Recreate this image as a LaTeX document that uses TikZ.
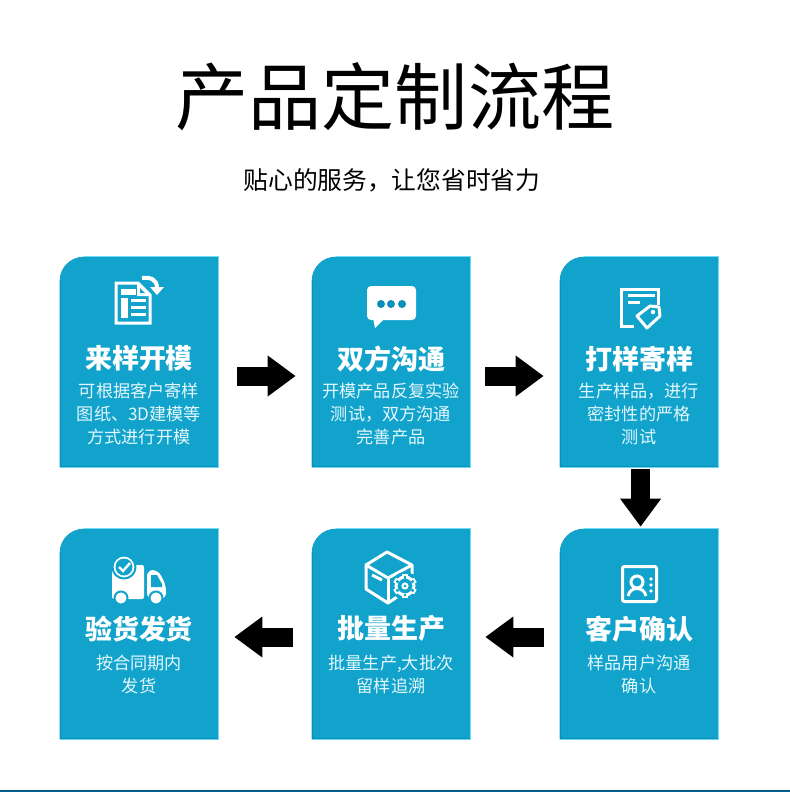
\documentclass[tikz,border=0pt]{standalone}
\usepackage{fontspec}
\setmainfont{Noto Sans CJK SC}
\usetikzlibrary{arrows.meta,calc}
\definecolor{cardBlue}{HTML}{11A3CC}
\definecolor{cardDark}{HTML}{0B8FB9}
\definecolor{cardLight}{HTML}{6FDBF3}
\definecolor{barBlue}{HTML}{005F86}
\definecolor{bodyText}{HTML}{E4F8FD}
\tikzset{
    card/.style={minimum width=3.95cm, minimum height=5.25cm, inner sep=0pt},
    cardhead/.style={font=\fontsize{19.2}{22}\selectfont\bfseries, text=white, inner sep=0pt},
    cardbody/.style={font=\fontsize{12.2}{16.2}\selectfont, text=bodyText, align=center, inner sep=0pt, anchor=north},
    flowarrow/.style={line width=0.475cm, -{Triangle[length=0.7cm,width=0.975cm]}},
    iconline/.style={draw=white, line width=0.075cm},
}

\begin{document}
\begin{tikzpicture}[x=0.025cm, y=-0.025cm, >=Latex]
    \useasboundingbox (0,0) rectangle (790,792);
    \fill[white] (0,0) rectangle (790,792);
    \fill[barBlue] (0,790) rectangle (790,792);

    \node[font=\fontsize{52}{60}\selectfont, inner sep=0pt] (title) at (395,97) {产品定制流程};
    \node[font=\fontsize{17.6}{21}\selectfont, inner sep=0pt] (subtitle) at (392,180) {贴心的服务，让您省时省力};

    % ---------- cards ----------
    \foreach \n/\x/\y/\hy/\head/\body in {
        1/139/362/102/来样开模/{可根据客户寄样\\图纸、3D建模等\\方式进行开模},
        2/391/362/102/双方沟通/{开模产品反复实验\\测试，双方沟通\\完善产品},
        3/639/362/102/打样寄样/{生产样品，进行\\密封性的严格\\测试},
        4/139/634/100/验货发货/{按合同期内\\发货},
        5/391/634/100/批量生产/{批量生产,大批次\\留样追溯},
        6/639/634/100/客户确认/{样品用户沟通\\确认}} {
        \node[card] (card\n) at (\x,\y) {};
        \fill[cardBlue]
            (card\n.south west) -- ([yshift=-0.6cm]card\n.north west) arc (180:270:24)
            -- (card\n.north east) -- (card\n.south east) -- cycle;
        \draw[cardDark, line width=0.025cm] ([yshift=-0.6cm,xshift=0.012cm]card\n.north west)
            -- ([yshift=0.012cm,xshift=0.012cm]card\n.south west) -- ([yshift=0.012cm]card\n.south east);
        \draw[cardLight, line width=0.015cm] ([xshift=0.6cm]card\n.north west)
            -- (card\n.north east) -- (card\n.south east) -- (card\n.south west);
        \node[cardhead] (head\n) at ($(card\n.north)+(0,\hy)$) {\head};
        \node[cardbody] (body\n) at ($(card\n.north)+(0,126)$) {\body};
    }

    % ---------- arrows ----------
    \draw[flowarrow, shorten <=0.475cm, shorten >=0.4cm] ([yshift=-0.35cm]card1.east) -- ([yshift=-0.35cm]card2.west);
    \draw[flowarrow, shorten <=0.375cm, shorten >=0.4cm] ([yshift=-0.35cm]card2.east) -- ([yshift=-0.35cm]card3.west);
    \draw[flowarrow, shorten <=0.03cm, shorten >=0.05cm] ([xshift=0.04cm]card3.south) -- ([xshift=0.04cm]card6.north);
    \draw[flowarrow, shorten <=0.4cm, shorten >=0.375cm] ([yshift=-0.075cm]card6.west) -- ([yshift=-0.075cm]card5.east);
    \draw[flowarrow, shorten <=0.475cm, shorten >=0.4cm] ([yshift=-0.075cm]card5.west) -- ([yshift=-0.075cm]card4.east);

    % ---------- icon 1: document ----------
    \draw[iconline] (116,283) -- (138,283) -- (150,295) -- (150,323) -- (116,323) -- cycle;
    \fill[white] (137,283) -- (137,296) -- (150,296) -- cycle;
    \fill[cardBlue] (140,288) -- (140,293) -- (145,293) -- cycle;
    \fill[white] (121,289) rectangle (136,295);
    \fill[white] (121,298) rectangle (128,318);
    \foreach \y in {299,306,313} {
        \fill[white] (131,\y) rectangle (146,\y+3);
    }
    \draw[iconline, line width=0.1cm] (142,278) .. controls (150,277) and (157,279) .. (157,288);
    \fill[white] (150,287) -- (164,287) -- (157,295) -- cycle;

    % ---------- icon 2: speech bubble ----------
    \fill[white, rounded corners=0.1cm] (367,286) rectangle (416,320);
    \fill[white] (373,318) -- (375,328) -- (384,319) -- cycle;
    \foreach \x in {381,391,402} {
        \fill[cardDark] (\x,304) circle (4);
    }

    % ---------- icon 3: form and tag ----------
    \draw[iconline] (634,326) -- (621.5,326) -- (621.5,289.5) -- (658.5,289.5) -- (658.5,305);
    \draw[iconline] (628,295) -- (655,295);
    \draw[iconline] (628,302) -- (640,302);
    \draw[iconline, fill=cardBlue, line join=round] (637,316) -- (650,306) -- (659,307) -- (660,316) -- (647,328) -- cycle;
    \fill[white] (653,312) circle (2.2);

    % ---------- icon 4: truck ----------
    \fill[white, rounded corners=0.05cm] (112,565) rectangle (144,599);
    \fill[white, rounded corners=0.15cm] (147,570) -- (158,570) -- (166,585) -- (166,599) -- (147,599) -- cycle;
    \fill[cardBlue] (151,575) -- (157,575) -- (162,584) -- (162,587) -- (151,587) -- cycle;
    \draw[cardBlue, line width=0.05cm, fill=white] (124,567) circle (11.5);
    \fill[cardBlue] (124,567) circle (8.5);
    \draw[white, line width=0.06cm] (119,567) -- (123,571) -- (130,563);
    \foreach \x in {121,156} {
        \draw[cardBlue, line width=0.05cm, fill=white] (\x,598) circle (6.5);
    }

    % ---------- icon 5: box and gear ----------
    \draw[iconline, line join=round] (397,597) -- (388,603) -- (366,589) -- (366,565) -- (387,552) -- (412,565) -- (412,574);
    \draw[iconline, line join=round] (366,565) -- (388,578) -- (412,565);
    \draw[iconline] (388,578) -- (388,603);
    \draw[iconline] (372,575) -- (382,580);
    \fill[cardBlue] (405,586) circle (14);
    \foreach \a in {30,90,...,330} {
        \draw[white, line width=0.13cm] ($(405,586)+(\a:8)$) -- ($(405,586)+(\a:12)$);
    }
    \draw[iconline, fill=cardBlue] (405,586) circle (9);
    \foreach \a in {30,90,...,330} {
        \draw[cardBlue, line width=0.06cm] ($(405,586)+(\a:7.5)$) -- ($(405,586)+(\a:10)$);
    }
    \draw[white, line width=0.05cm] (405,586) circle (2.5);

    % ---------- icon 6: contact card ----------
    \draw[iconline, rounded corners=0.05cm] (622.5,566.5) rectangle (656.5,601.5);
    \draw[iconline] (637,582) circle (6);
    \draw[iconline] (628,596) .. controls (630,586) and (644,586) .. (646,596);
    \foreach \y in {579,585,591} {
        \fill[white] (651,\y) circle (1.8);
    }
\end{tikzpicture}
\end{document}
